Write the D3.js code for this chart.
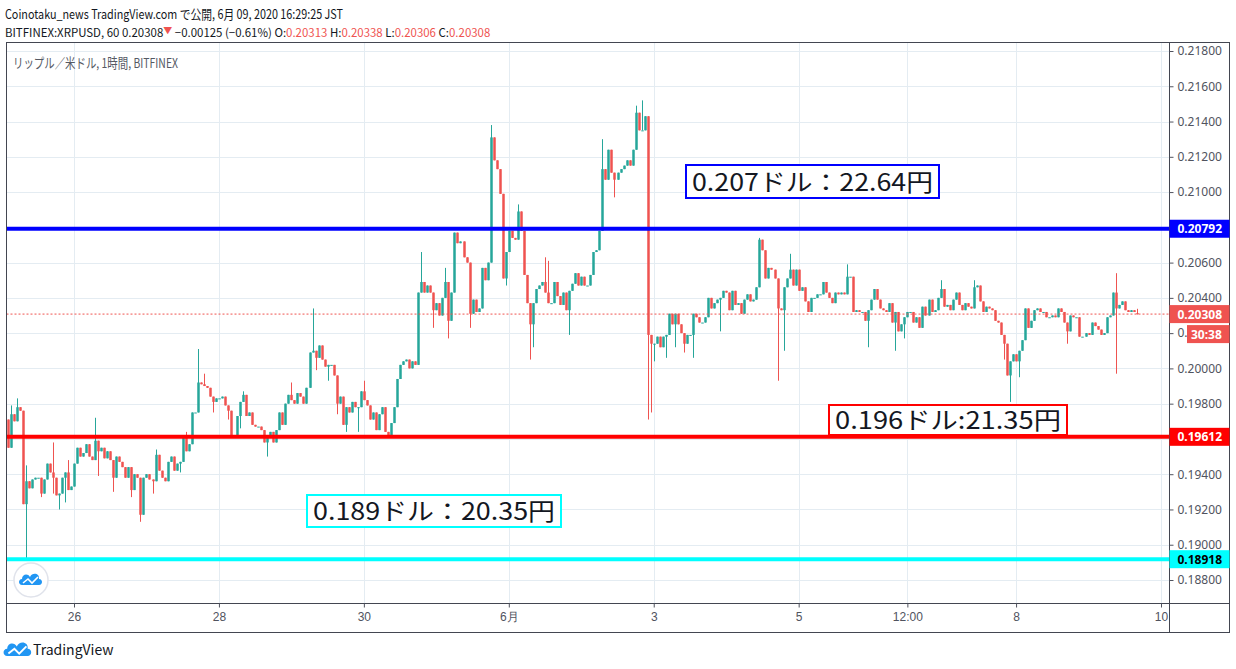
<!DOCTYPE html>
<html>
<head>
<meta charset="utf-8">
<script src="https://cdn.jsdelivr.net/npm/d3@7"></script>
<style>
body { margin: 0; background: #fff; }
svg { display: block; font-family: "Noto Sans CJK JP", "Noto Sans", sans-serif; }
</style>
</head>
<body>
<svg id="chart" width="1236" height="669"></svg>
<script>
// hourly closes, BITFINEX XRPUSD (May 25 01:00 .. Jun 9 16:00 JST)
var closePrices = [
  0.1971, 0.1955, 0.1974, 0.1970, 0.1978, 0.1976, 0.1923, 0.1936, 0.1932, 0.1937,
  0.1938, 0.1938, 0.1929, 0.1937, 0.1946, 0.1941, 0.1938, 0.1928, 0.1929, 0.1938,
  0.1941, 0.1931, 0.1933, 0.1946, 0.1955, 0.1950, 0.1952, 0.1957, 0.1950, 0.1948,
  0.1959, 0.1953, 0.1955, 0.1949, 0.1953, 0.1948, 0.1938, 0.1950, 0.1947, 0.1944,
  0.1938, 0.1944, 0.1931, 0.1940, 0.1938, 0.1917, 0.1938, 0.1940, 0.1937, 0.1936,
  0.1951, 0.1942, 0.1938, 0.1936, 0.1947, 0.1950, 0.1942, 0.1946, 0.1947, 0.1961,
  0.1953, 0.1957, 0.1975, 0.1975, 0.1992, 0.1991, 0.1990, 0.1989, 0.1984, 0.1981,
  0.1983, 0.1983, 0.1984, 0.1979, 0.1976, 0.1962, 0.1962, 0.1973, 0.1981, 0.1985,
  0.1973, 0.1975, 0.1968, 0.1967, 0.1967, 0.1965, 0.1958, 0.1961, 0.1964, 0.1958,
  0.1965, 0.1975, 0.1968, 0.1980, 0.1985, 0.1982, 0.1980,
  0.1986, 0.1984, 0.1980, 0.1989, 0.2009, 0.2010, 0.2006, 0.2013, 0.2005, 0.2001,
  0.2002, 0.2002, 0.1996, 0.1980, 0.1984, 0.1968, 0.1978, 0.1975, 0.1981, 0.1978,
  0.1978, 0.1987, 0.1982, 0.1979, 0.1971, 0.1975, 0.1965, 0.1974, 0.1978, 0.1964,
  0.1962, 0.1969, 0.1978, 0.1994, 0.2002, 0.2004, 0.2005, 0.2000, 0.2004, 0.2002,
  0.2043, 0.2049, 0.2043, 0.2047, 0.2043, 0.2033, 0.2037, 0.2030, 0.2040, 0.2049,
  0.2027, 0.2043, 0.2077, 0.2071, 0.2072, 0.2063, 0.2060, 0.2031, 0.2039, 0.2032,
  0.2034, 0.2057, 0.2050, 0.2060, 0.2131, 0.2118, 0.2113, 0.2099, 0.2051, 0.2066,
  0.2078, 0.2074, 0.2073, 0.2089, 0.2078, 0.2053, 0.2037, 0.2025, 0.2037, 0.2045,
  0.2047, 0.2049, 0.2043, 0.2037, 0.2037, 0.2049, 0.2041, 0.2036, 0.2043, 0.2033,
  0.2044, 0.2048, 0.2054, 0.2047, 0.2052, 0.2047,
  0.2047, 0.2053, 0.2066, 0.2067, 0.2078, 0.2113, 0.2107, 0.2124, 0.2111, 0.2107,
  0.2111, 0.2113, 0.2115, 0.2118, 0.2115, 0.2124, 0.2145, 0.2135, 0.2135, 0.2143,
  0.2019, 0.2014, 0.2014, 0.2018, 0.2012, 0.2018, 0.2019, 0.2031, 0.2025, 0.2031,
  0.2025, 0.2020, 0.2014, 0.2019, 0.2019, 0.2031, 0.2029, 0.2026, 0.2026, 0.2029,
  0.2040, 0.2034, 0.2037, 0.2039, 0.2040, 0.2044, 0.2043, 0.2033, 0.2044, 0.2036,
  0.2037, 0.2031, 0.2039, 0.2042, 0.2038, 0.2039, 0.2046, 0.2073, 0.2067, 0.2051,
  0.2057, 0.2056, 0.2051, 0.2034, 0.2033, 0.2046, 0.2051, 0.2056, 0.2047, 0.2056,
  0.2044, 0.2046, 0.2038, 0.2032, 0.2040, 0.2040, 0.2042, 0.2042, 0.2049, 0.2043,
  0.2040, 0.2037, 0.2043, 0.2042, 0.2043, 0.2042, 0.2052, 0.2052, 0.2032, 0.2033,
  0.2032, 0.2032, 0.2027, 0.2033, 0.2039,
  0.2045, 0.2039, 0.2034, 0.2033, 0.2032, 0.2037, 0.2026, 0.2032, 0.2021, 0.2025,
  0.2029, 0.2032, 0.2032, 0.2026, 0.2029, 0.2023, 0.2035, 0.2030, 0.2039, 0.2032,
  0.2033, 0.2040, 0.2045, 0.2035, 0.2036, 0.2033, 0.2039, 0.2043, 0.2036, 0.2033,
  0.2037, 0.2035, 0.2034, 0.2046, 0.2047, 0.2038, 0.2032, 0.2035, 0.2034, 0.2033,
  0.2027, 0.2026, 0.2019, 0.2014, 0.1996, 0.2004, 0.2008, 0.2004, 0.2010, 0.2016,
  0.2034, 0.2023, 0.2027, 0.2033, 0.2034, 0.2032, 0.2032, 0.2029, 0.2029, 0.2030,
  0.2029, 0.2034, 0.2032, 0.2026, 0.2021, 0.2030, 0.2029, 0.2029, 0.2018, 0.2018,
  0.2020, 0.2019, 0.2026, 0.2024, 0.2022, 0.2019, 0.2020, 0.2029, 0.2030, 0.2043,
  0.2034, 0.2036, 0.2038, 0.2033, 0.2032, 0.2033, 0.2032, 0.20308
];
var firstOpen = 0.1962;
var lastOpen = 0.20313;

// visible wick extremes [candle index, price]
var wickHighs = [
  [2,0.1979],[4,0.1983],[7,0.1945],[16,0.1958],[21,0.1948],[30,0.1972],[50,0.1954],
  [60,0.1964],[64,0.2011],[66,0.1997],[79,0.1987],[95,0.1992],[102,0.2034],[119,0.1993],
  [138,0.2066],[146,0.2057],[161,0.2138],[170,0.2093],[179,0.2063],[180,0.2061],
  [198,0.2130],[209,0.2149],[211,0.2152],[250,0.2074],[260,0.2065],[279,0.2059],
  [310,0.2050],[321,0.2050],[368,0.2054],[375,0.20338]
];
var wickLows = [
  [7,0.1892],[12,0.1927],[16,0.1929],[18,0.1920],[20,0.1924],[31,0.1939],[36,0.1930],
  [42,0.1927],[45,0.1913],[49,0.1929],[58,0.1941],[69,0.1975],[74,0.1971],[78,0.1966],
  [87,0.1950],[103,0.1999],[107,0.1993],[110,0.1974],[113,0.1964],[117,0.1964],
  [142,0.2023],[147,0.2017],[154,0.2023],[166,0.2047],[174,0.2005],[175,0.2012],
  [187,0.2019],[202,0.2097],[213,0.1971],[214,0.1975],[215,0.2004],[219,0.2006],
  [222,0.2012],[225,0.2009],[228,0.2006],[237,0.2021],[256,0.1993],[258,0.2010],
  [286,0.2012],[295,0.2010],[298,0.2017],[331,0.2005],[333,0.1981],[336,0.1995],
  [352,0.2014],[368,0.1997],[375,0.20306]
];

var priceTicks = [0.188, 0.190, 0.192, 0.194, 0.196, 0.198, 0.200, 0.202, 0.204,
                  0.206, 0.208, 0.210, 0.212, 0.214, 0.216, 0.218];
var timeTicks = [
  Date.UTC(2020,4,26), Date.UTC(2020,4,28), Date.UTC(2020,4,30), Date.UTC(2020,5,1),
  Date.UTC(2020,5,3), Date.UTC(2020,5,5), Date.UTC(2020,5,6,12), Date.UTC(2020,5,8),
  Date.UTC(2020,5,10)
];
var timeLabels = ["26", "28", "30", "6月", "3", "5", "12:00", "8", "10"];

var levels = [
  {price: 0.20792, color: "#0000ff", text: "#ffffff"},
  {price: 0.19612, color: "#ff0000", text: "#ffffff"},
  {price: 0.18918, color: "#00ffff", text: "#000000"}
];
var notes = [
  {label: "0.207ドル：22.64円", color: "#0000ff", x: 686, y: 165, w: 253, h: 33},
  {label: "0.196ドル:21.35円",  color: "#ff0000", x: 829, y: 405, w: 238, h: 30},
  {label: "0.189ドル：20.35円", color: "#00ffff", x: 307, y: 495, w: 254, h: 32}
];
var lastPrice = 0.20308;
var countdown = "30:38";

var endTime = Date.UTC(2020,5,9,16);
var upColor = "#26a69a", downColor = "#ef5350";

var plotL = 6.5, plotR = 1169.5, plotT = 42.5, plotB = 603.5, axisR = 1229.5, frameB = 632.5;

var svg = d3.select("#chart");

var x = d3.scaleUtc()
    .domain([new Date(Date.UTC(2020,4,26)), new Date(Date.UTC(2020,5,10))])
    .range([74, 1161]);
var y = d3.scaleLinear()
    .domain([0.188, 0.218])
    .range([580, 51]);

// header
var textColor = "#131722";
svg.append("text")
    .attr("x", 5).attr("y", 19)
    .attr("textLength", 338).attr("lengthAdjust", "spacingAndGlyphs")
    .style("font-size", "13px").style("fill", textColor)
    .text("Coinotaku_news TradingView.com で公開, 6月 09, 2020 16:29:25 JST");

var head2 = svg.append("text")
    .attr("x", 5).attr("y", 37)
    .style("font-size", "12px").style("fill", textColor);
var headParts = [
  ["BITFINEX:XRPUSD, 60 0.20308", textColor],
  ["▼", downColor],
  [" −0.00125 (−0.61%) O:", textColor], ["0.20313", downColor],
  [" H:", textColor], ["0.20338", downColor],
  [" L:", textColor], ["0.20306", downColor],
  [" C:", textColor], ["0.20308", downColor]
];
headParts.forEach(function(p) {
    var t = head2.append("tspan").style("fill", p[1]).text(p[0]);
    if (p[0] == "▼") t.style("font-size", "9px").attr("dy", -3);
    if (p[0].indexOf(" −") == 0) t.attr("dy", 3);
});
// fit the second header line to the width it has in the picture
var w2 = head2.node().getComputedTextLength();
head2.style("font-size", (12 * 485 / w2).toFixed(2) + "px");
head2.select("tspan:nth-child(2)").style("font-size", "9px");

// grid
svg.append("g").selectAll("line")
    .data(priceTicks)
    .enter().append("line")
    .attr("x1", plotL).attr("x2", plotR)
    .attr("y1", function(d) { return Math.round(y(d)) + 0.5; })
    .attr("y2", function(d) { return Math.round(y(d)) + 0.5; })
    .style("stroke", "#e4ecf2");
svg.append("g").selectAll("line")
    .data(timeTicks)
    .enter().append("line")
    .attr("x1", function(d) { return Math.round(x(d)) + 0.5; })
    .attr("x2", function(d) { return Math.round(x(d)) + 0.5; })
    .attr("y1", plotT).attr("y2", plotB)
    .style("stroke", "#e4ecf2");

svg.append("text")
    .attr("x", 13).attr("y", 68)
    .attr("textLength", 165).attr("lengthAdjust", "spacingAndGlyphs")
    .style("font-size", "13.5px").style("fill", "#555963")
    .text("リップル／米ドル, 1時間, BITFINEX");

// candles
var n = closePrices.length;
var candles = closePrices.map(function(c, i) {
    var o = (i == 0) ? firstOpen : closePrices[i - 1];
    if (i == n - 1) o = lastOpen;
    return {
        t: new Date(endTime - (n - 1 - i) * 3600e3),
        o: o, c: c, h: Math.max(o, c), l: Math.min(o, c)
    };
});
wickHighs.forEach(function(w) { candles[w[0]].h = Math.max(candles[w[0]].h, w[1]); });
wickLows.forEach(function(w) { candles[w[0]].l = Math.min(candles[w[0]].l, w[1]); });

svg.append("clipPath").attr("id", "plotclip")
    .append("rect").attr("x", plotL).attr("y", plotT)
    .attr("width", plotR - plotL).attr("height", plotB - plotT);
var plot = svg.append("g").attr("clip-path", "url(#plotclip)");

var candle = plot.selectAll(".candle")
    .data(candles)
    .enter().append("g")
    .attr("class", "candle")
    .style("fill", function(d) { return d.c >= d.o ? upColor : downColor; })
    .style("stroke", function(d) { return d.c >= d.o ? upColor : downColor; });
candle.append("line")
    .attr("x1", function(d) { return Math.round(x(d.t)) + 0.5; })
    .attr("x2", function(d) { return Math.round(x(d.t)) + 0.5; })
    .attr("y1", function(d) { return y(d.h); })
    .attr("y2", function(d) { return y(d.l); })
    .style("stroke-width", 1);
candle.append("rect")
    .attr("x", function(d) { return Math.round(x(d.t)) - 0.75; })
    .attr("width", 2.5)
    .attr("y", function(d) { return y(Math.max(d.o, d.c)); })
    .attr("height", function(d) { return Math.max(1, Math.abs(y(d.o) - y(d.c))); })
    .style("stroke", "none");

// last price dashed line
plot.append("line")
    .attr("x1", plotL).attr("x2", plotR)
    .attr("y1", y(lastPrice)).attr("y2", y(lastPrice))
    .style("stroke", downColor).style("stroke-dasharray", "2,2");

// horizontal levels
plot.selectAll(".level")
    .data(levels)
    .enter().append("line")
    .attr("class", "level")
    .attr("x1", plotL).attr("x2", plotR)
    .attr("y1", function(d) { return y(d.price); })
    .attr("y2", function(d) { return y(d.price); })
    .style("stroke", function(d) { return d.color; })
    .style("stroke-width", 4);

// text notes
var note = plot.selectAll(".note")
    .data(notes)
    .enter().append("g").attr("class", "note");
note.append("rect")
    .attr("x", function(d) { return d.x; })
    .attr("y", function(d) { return d.y; })
    .attr("width", function(d) { return d.w; })
    .attr("height", function(d) { return d.h; })
    .style("fill", "#fff")
    .style("stroke", function(d) { return d.color; })
    .style("stroke-width", 2);
note.append("text")
    .attr("x", function(d) { return d.x + 6; })
    .attr("y", function(d) { return d.y + d.h / 2 + 9; })
    .attr("textLength", function(d) { return d.w - 12; })
    .attr("lengthAdjust", "spacingAndGlyphs")
    .style("font-size", "24px").style("fill", "#131722")
    .text(function(d) { return d.label; });

// tv badge in chart
var badge = svg.append("g").attr("transform", "translate(31,580)");
badge.append("circle").attr("r", 17).style("fill", "#fff").style("stroke", "#e0e3eb").style("stroke-width", 1.5);
function cloud(g, s) {
    g.append("path")
        .attr("d", "M-9,5 C-13,5 -13,-1 -9,-1 C-9,-6 -3,-7 -1,-3 C1,-8 9,-7 8,-1 C12,-1 12,5 8,5 Z")
        .attr("transform", "scale(" + s + ")")
        .style("fill", "#2196f3");
    g.append("path")
        .attr("d", "M-8,3 L-3,-1 L1,3 L7,-3")
        .attr("transform", "scale(" + s + ")")
        .style("fill", "none").style("stroke", "#fff").style("stroke-width", 1.6);
}
cloud(badge, 1);

// frame
svg.append("rect")
    .attr("x", plotL).attr("y", plotT)
    .attr("width", axisR - plotL).attr("height", frameB - plotT)
    .style("fill", "none").style("stroke", "#434651");
svg.append("line").attr("x1", plotR).attr("x2", plotR).attr("y1", plotT).attr("y2", frameB)
    .style("stroke", "#434651");
svg.append("line").attr("x1", plotL).attr("x2", axisR).attr("y1", plotB).attr("y2", plotB)
    .style("stroke", "#434651");

// price axis
var yAxis = svg.append("g")
    .attr("transform", "translate(" + plotR + ",0)")
    .call(d3.axisRight(y).tickValues(priceTicks).tickFormat(d3.format(".5f")).tickSize(4).tickPadding(4));
yAxis.select(".domain").remove();
yAxis.selectAll("line").style("stroke", "#50535e");
yAxis.selectAll("text").style("font-size", "12px").style("fill", "#50535e")
    .style("font-family", "'Noto Sans', sans-serif");

// time axis
var xAxis = svg.append("g")
    .attr("transform", "translate(0," + plotB + ")")
    .call(d3.axisBottom(x).tickValues(timeTicks.map(function(d) { return new Date(d); }))
        .tickFormat(function(d, i) { return timeLabels[i]; }).tickSize(4).tickPadding(5));
xAxis.select(".domain").remove();
xAxis.selectAll("line").style("stroke", "#50535e");
xAxis.selectAll("text").style("font-size", "12px").style("fill", "#50535e");

// axis price labels
var axisLabels = levels.map(function(d) { return {price: d.price, color: d.color, text: d.text}; });
axisLabels.push({price: lastPrice, color: downColor, text: "#ffffff"});
var tag = svg.selectAll(".tag")
    .data(axisLabels)
    .enter().append("g").attr("class", "tag");
tag.append("rect")
    .attr("x", plotR).attr("width", axisR - plotR)
    .attr("y", function(d) { return y(d.price) - 9; })
    .attr("height", 18)
    .style("fill", function(d) { return d.color; });
tag.append("text")
    .attr("x", plotR + 8)
    .attr("y", function(d) { return y(d.price) + 4.5; })
    .style("font-size", "12px").style("font-weight", "bold")
    .style("font-family", "'Noto Sans', sans-serif")
    .style("fill", function(d) { return d.text; })
    .text(function(d) { return d3.format(".5f")(d.price); });

svg.append("rect")
    .attr("x", 1187).attr("y", y(lastPrice) + 11).attr("width", axisR - 1187).attr("height", 18)
    .style("fill", downColor);
svg.append("text")
    .attr("x", 1191).attr("y", y(lastPrice) + 24.5)
    .style("font-size", "12px").style("font-weight", "bold").style("fill", "#fff")
    .style("font-family", "'Noto Sans', sans-serif")
    .text(countdown);

// footer
var foot = svg.append("g").attr("transform", "translate(18,650)");
cloud(foot, 1.2);
svg.append("text")
    .attr("x", 33).attr("y", 655)
    .style("font-size", "14px").style("fill", textColor)
    .text("TradingView");
</script>
</body>
</html>
